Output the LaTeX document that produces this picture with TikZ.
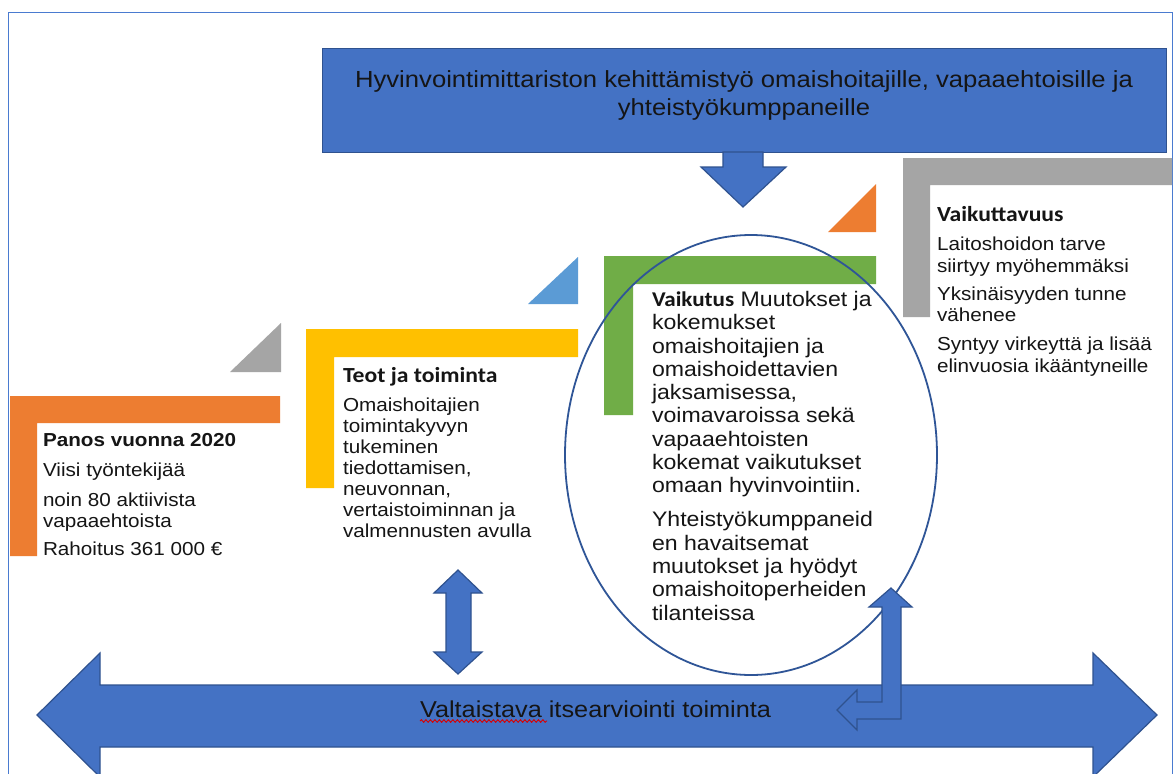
\documentclass[tikz,border=0pt]{standalone}
\usepackage{fontspec}
\setmainfont{Liberation Sans}[FakeStretch=1.1]
\newfontfamily\calfont{Carlito}[FakeStretch=1.1]
\usetikzlibrary{decorations.pathmorphing,shapes.geometric}
\definecolor{mblue}{HTML}{4472C4}
\definecolor{dblue}{HTML}{2F528F}
\definecolor{eblue}{HTML}{2F5597}
\definecolor{fblue}{HTML}{4A7BD0}
\definecolor{morange}{HTML}{ED7D31}
\definecolor{myellow}{HTML}{FFC000}
\definecolor{mgreen}{HTML}{70AD47}
\definecolor{mgray}{HTML}{A5A5A5}
\definecolor{lblue}{HTML}{5B9BD5}
\definecolor{txt}{HTML}{151515}
\begin{document}
\begin{tikzpicture}[x=1pt,y=-1pt,
  blockarrow/.style={fill=mblue, draw=dblue, line width=1.2pt, line join=miter},
  tx/.style={inner sep=0pt, outer sep=0pt, align=left, text=txt},
  body/.style={font=\fontsize{18.8}{21}\selectfont}]
\useasboundingbox (0,0) rectangle (1176,774);
\clip (0,0) rectangle (1176,774);
\fill[white] (0,0) rectangle (1176,774);
% frame
\draw[fblue, line width=1pt] (8,790) -- (8,12) -- (1172,12) -- (1172,790);
% L shapes
\fill[morange] (10,396) -- (280,396) -- (280,423) -- (37,423) -- (37,556) -- (10,556) -- cycle;
\fill[myellow] (306,329) -- (578,329) -- (578,357) -- (334,357) -- (334,488) -- (306,488) -- cycle;
\fill[mgreen] (604,256) -- (876,256) -- (876,284) -- (633,284) -- (633,415) -- (604,415) -- cycle;
\fill[mgray] (903,158) -- (1172,158) -- (1172,185) -- (930,185) -- (930,317) -- (903,317) -- cycle;
% triangles
\fill[mgray] (230,372) -- (281,372) -- (281,323) -- cycle;
\fill[lblue] (528,304) -- (578,304) -- (578,257) -- cycle;
\fill[morange] (828,232) -- (876,232) -- (876,184) -- cycle;
% top box
\node[draw=dblue, fill=mblue, line width=1.2pt, minimum width=844pt, minimum height=104pt, inner sep=0pt, anchor=north west] (top) at (322,48) {};
% down arrow
\draw[blockarrow] (723,152) -- (763,152) -- (763,167) -- (786,167) -- (743,207) -- (701,167) -- (723,167) -- cycle;
% ellipse
\node[ellipse, draw=eblue, line width=1.8pt, minimum width=372pt, minimum height=440pt, inner sep=0pt] (circ) at (751,455) {};
% big double arrow
\draw[blockarrow] (37,715) -- (100,653) -- (100,685) -- (1093,685) -- (1093,653) -- (1157,715) -- (1093,777) -- (1093,747) -- (100,747) -- (100,777) -- cycle;
% vertical double arrow
\draw[blockarrow] (458,570) -- (482,593) -- (471,593) -- (471,652) -- (482,652) -- (458,674) -- (434,652) -- (446,652) -- (446,593) -- (434,593) -- cycle;
% bent arrow
\draw[blockarrow] (891,588) -- (912,607) -- (901,607) -- (901,719) -- (857,719) -- (857,730) -- (837,710) -- (857,690) -- (857,702) -- (882,702) -- (882,607) -- (869,607) -- cycle;
% texts (base anchor = baseline of the last line)
\node[tx, align=center, anchor=base, font=\fontsize{23.3}{28}\selectfont] (title) at (744,115)
  {Hyvinvointimittariston kehittämistyö omaishoitajille, vapaaehtoisille ja\\yhteistyökumppaneille};
\node[tx, body, anchor=base west] (panos) at (43,555)
  {{\bfseries Panos vuonna 2020}\\[9pt]Viisi työntekijää\\[9pt]noin 80 aktiivista\\vapaaehtoista\\[7pt]Rahoitus 361 000 €};
\node[tx, body, anchor=base west] (teot) at (343,537)
  {{\calfont\bfseries\fontsize{21.5}{21.5}\selectfont Teot ja toiminta}\\[8pt]Omaishoitajien\\toimintakyvyn\\tukeminen\\tiedottamisen,\\neuvonnan,\\vertaistoiminnan ja\\valmennusten avulla};
\node[tx, anchor=base west, font=\fontsize{21}{23.3}\selectfont] (vaikutus) at (652,620)
  {{\calfont\bfseries Vaikutus} Muutokset ja\\kokemukset\\omaishoitajien ja\\omaishoidettavien\\jaksamisessa,\\voimavaroissa sekä\\vapaaehtoisten\\kokemat vaikutukset\\omaan hyvinvointiin.\\[10.7pt]Yhteistyökumppaneid\\en havaitsemat\\muutokset ja hyödyt\\omaishoitoperheiden\\tilanteissa};
\node[tx, anchor=base west, font=\fontsize{18.8}{21.5}\selectfont] (vaikuttavuus) at (937,372)
  {{\calfont\bfseries\fontsize{21.5}{21.5}\selectfont Vaikuttavuus}\\[7.5pt]Laitoshoidon tarve\\siirtyy myöhemmäksi\\[6.5pt]Yksinäisyyden tunne\\vähenee\\[7.5pt]Syntyy virkeyttä ja lisää\\elinvuosia ikääntyneille};
\node[tx, anchor=base west, font=\fontsize{23}{27}\selectfont] (valt) at (420,717) {Valtaistava itsearviointi toiminta};
\draw[red!85!black, line width=0.9pt, decorate, decoration={snake, amplitude=1.3pt, segment length=4.5pt}] (valt.base west) ++(0,4) -- ++(127,0);
\end{tikzpicture}
\end{document}
